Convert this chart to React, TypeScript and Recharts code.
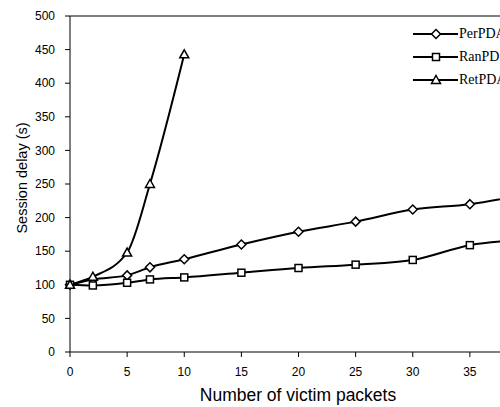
import React from 'react';
import { LineChart, Line, XAxis, YAxis, Label, ReferenceLine } from 'recharts';

const victimPackets = [0, 2, 5, 7, 10, 15, 20, 25, 30, 35, 40];
const perPDA = [100, 108, 114, 126, 138, 160, 179, 194, 212, 220, 235];
const ranPDA = [100, 99, 103, 108, 111, 118, 125, 130, 137, 159, 167];
const retPDA = [100, 112, 148, 250, 443];
const xTicks = [0, 5, 10, 15, 20, 25, 30, 35];
const yTicks = [0, 50, 100, 150, 200, 250, 300, 350, 400, 450, 500];

const data = victimPackets.map((x, i) => ({
  x,
  per: perPDA[i],
  ran: ranPDA[i],
  ret: i < retPDA.length ? retPDA[i] : undefined,
}));

const sans = '"Liberation Sans", Arial, sans-serif';

const Marker = ({ kind, cx, cy }: { kind: string; cx: number; cy: number }) => {
  if (kind === 'diamond') {
    return <path d={`M${cx},${cy - 4.5} L${cx + 4.5},${cy} L${cx},${cy + 4.5} L${cx - 4.5},${cy} Z`} fill="#fff" stroke="#000" strokeWidth={1.5} />;
  }
  if (kind === 'square') {
    return <rect x={cx - 3.5} y={cy - 3.5} width={7} height={7} fill="#fff" stroke="#000" strokeWidth={1.5} />;
  }
  return <path d={`M${cx},${cy - 4.5} L${cx + 4.5},${cy + 3.5} L${cx - 4.5},${cy + 3.5} Z`} fill="#fff" stroke="#000" strokeWidth={1.5} />;
};

const makeDot = (kind: string) => (props: any) => {
  if (props.cx == null || props.cy == null || props.value == null) return <g key={props.key} />;
  return <Marker key={props.key} kind={kind} cx={props.cx} cy={props.cy} />;
};

const legendItems = [
  { name: 'PerPDA', kind: 'diamond' },
  { name: 'RanPDA', kind: 'square' },
  { name: 'RetPDA', kind: 'triangle' },
];

// legend sits inside the plot, drawn as a plain overlay
const ChartLegend = () => (
  <div style={{ position: 'absolute', left: 413, top: 22, pointerEvents: 'none' }}>
    {legendItems.map((item) => (
      <div key={item.name} style={{ display: 'flex', alignItems: 'center', height: 23 }}>
        <svg width={45} height={12} style={{ display: 'block' }}>
          <line x1={0} y1={6} x2={45} y2={6} stroke="#000" strokeWidth={2} />
          <Marker kind={item.kind} cx={23} cy={6} />
        </svg>
        <span style={{ fontFamily: '"Liberation Serif", "Times New Roman", serif', fontSize: 14, marginLeft: 1, whiteSpace: 'nowrap', lineHeight: '14px' }}>
          {item.name}
        </span>
      </div>
    ))}
  </div>
);

export default function App() {
  return (
    <div style={{ position: 'fixed', left: 0, top: 0, width: 500, height: 407, overflow: 'hidden', background: '#fff' }}>
      <LineChart width={580} height={407} data={data} margin={{ top: 16, right: 53, left: 0, bottom: 0 }}>
        <XAxis
          dataKey="x"
          type="number"
          domain={[0, 40]}
          ticks={xTicks}
          stroke="#000"
          tickSize={5}
          tickMargin={10}
          height={55}
          tick={{ fill: '#000', fontSize: 12, fontFamily: sans }}
        >
          <Label
            content={() => (
              <text x={298} y={401} textAnchor="middle" fontSize={17.5} fontFamily={sans} fill="#000">
                Number of victim packets
              </text>
            )}
          />
        </XAxis>
        <YAxis
          type="number"
          domain={[0, 500]}
          ticks={yTicks}
          stroke="#000"
          width={70}
          tickSize={5}
          tickMargin={10}
          tick={{ fill: '#000', fontSize: 12, fontFamily: sans }}
        >
          <Label
            content={() => (
              <text x={27} y={178} transform="rotate(-90,27,178)" textAnchor="middle" fontSize={14.5} fontFamily={sans} fill="#000">
                Session delay (s)
              </text>
            )}
          />
        </YAxis>
        <ReferenceLine y={500} stroke="#000" strokeWidth={1} />
        <Line type="monotone" dataKey="per" stroke="#000" strokeWidth={2} dot={makeDot('diamond')} isAnimationActive={false} />
        <Line type="monotone" dataKey="ran" stroke="#000" strokeWidth={2} dot={makeDot('square')} isAnimationActive={false} />
        <Line type="monotone" dataKey="ret" stroke="#000" strokeWidth={2} dot={makeDot('triangle')} isAnimationActive={false} />
      </LineChart>
      <ChartLegend />
    </div>
  );
}
